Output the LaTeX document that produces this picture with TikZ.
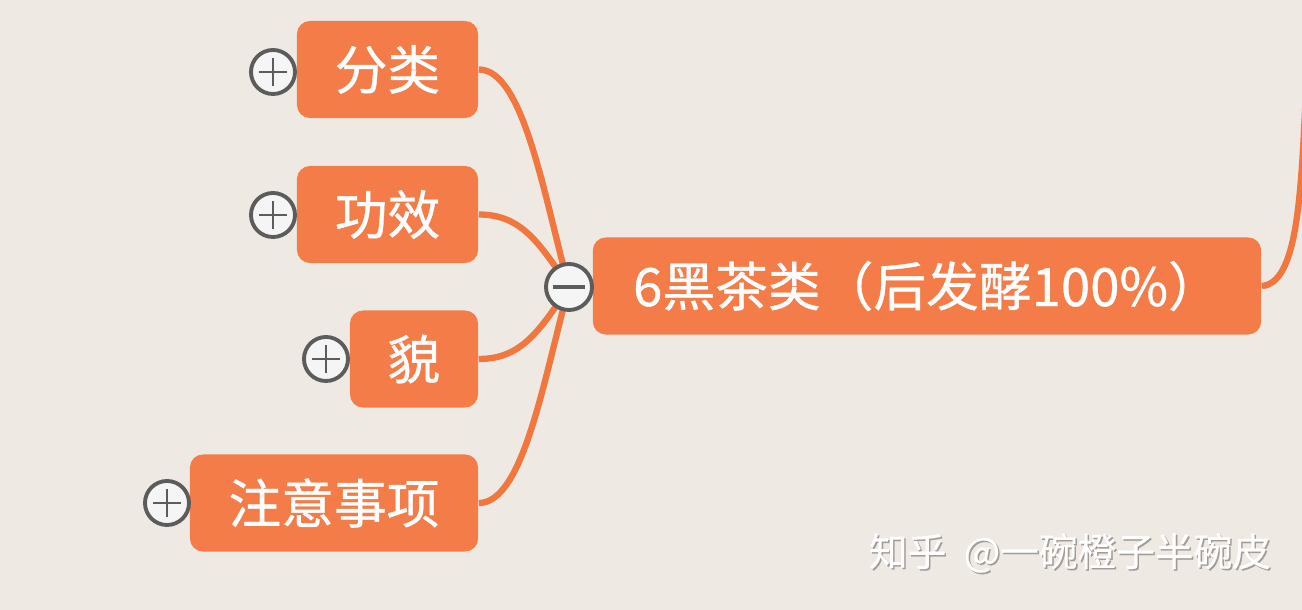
\documentclass[tikz,border=0pt]{standalone}
\usepackage{fontspec}
\newfontfamily\cjk[FakeBold=0.7]{Noto Sans CJK SC}
\newfontfamily\cjkmark[FakeBold=0.4]{Noto Sans CJK SC}
\definecolor{paper}{HTML}{EEEAE3}
\definecolor{topicorange}{HTML}{F47C49}
\definecolor{linkorange}{HTML}{F2773F}
\definecolor{foldgray}{HTML}{5C5C5C}
\definecolor{markshade}{HTML}{A29C94}
\tikzset{
    topic/.style={fill=topicorange, rounded corners=0.13cm, text=white, inner sep=0pt,
        minimum height=0.97cm, font=\cjk\fontsize{15}{18}\selectfont},
    branch/.style={draw=linkorange, line width=1.8pt},
    fold/.style={circle, draw=foldgray, line width=1.1pt, fill=white!96!black,
        minimum size=0.44cm, inner sep=0pt},
    plusfold/.style={fold, path picture={
        \draw[foldgray, line width=0.65pt]
            ([xshift=-0.14cm]path picture bounding box.center) -- ([xshift=0.14cm]path picture bounding box.center)
            ([yshift=-0.14cm]path picture bounding box.center) -- ([yshift=0.14cm]path picture bounding box.center);}},
    minusfold/.style={fold, minimum size=0.46cm, path picture={
        \draw[foldgray, line width=1pt]
            ([xshift=-0.16cm]path picture bounding box.center) -- ([xshift=0.16cm]path picture bounding box.center);}},
    watermark/.style={font=\cjkmark\fontsize{11}{13}\selectfont, inner sep=0pt}
}
\begin{document}
\begin{tikzpicture}[x=0.01cm, y=-0.01cm]
    \fill[paper] (0,0) rectangle (1302,610);
    \useasboundingbox (0,0) rectangle (1302,610);
    \clip (0,0) rectangle (1302,610);
    % topics
    \node[topic, minimum width=6.68cm] (main) at (927,286) {6黑茶类（后发酵100\%）};
    \node[topic, minimum width=1.81cm] (fenlei) at (387.5,69.5) {分类};
    \node[topic, minimum width=1.81cm] (gongxiao) at (387.5,214.5) {功效};
    \node[topic, minimum width=1.28cm] (mao) at (414,359) {貌};
    \node[topic, minimum width=2.88cm] (zhuyi) at (334,503) {注意事项};
    \coordinate (hub) at (569,287);
    \coordinate (exit) at (1306,90);
    % connectors
    \draw[branch] (fenlei.east) .. controls +(45,0) and +(-25,-90) .. (hub);
    \draw[branch] (gongxiao.east) .. controls +(42,0) and +(-30,-45) .. (hub);
    \draw[branch] (mao.east) .. controls +(42,0) and +(-30,45) .. (hub);
    \draw[branch] (zhuyi.east) .. controls +(45,0) and +(-25,90) .. (hub);
    \draw[branch] (main.east) .. controls +(35,-3) and +(-5,110) .. (exit);
    % fold buttons
    \node[minusfold] (mainfold) at (hub) {};
    \node[plusfold] (fenleifold) at (273,72) {};
    \node[plusfold] (gongxiaofold) at (273,215) {};
    \node[plusfold] (maofold) at (326,359) {};
    \node[plusfold] (zhuyifold) at (167,503) {};
    % watermark
    \node[watermark, text=markshade] (markshadow) at (1071.5,554.5) {知乎\ \ @一碗橙子半碗皮};
    \node[watermark, text=white] (mark) at (1070,553) {知乎\ \ @一碗橙子半碗皮};
\end{tikzpicture}
\end{document}
